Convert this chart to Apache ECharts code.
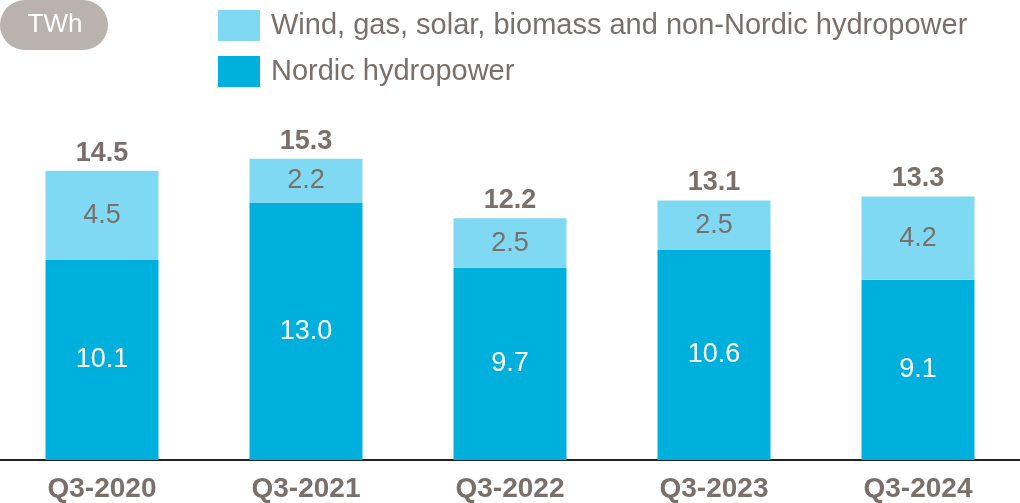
<!DOCTYPE html>
<html>
<head>
<meta charset="utf-8">
<script src="https://cdn.jsdelivr.net/npm/echarts@6/dist/echarts.min.js"></script>
<style>
  html, body { margin: 0; padding: 0; background: #fff; }
  #chart { width: 1020px; height: 503px; }
</style>
</head>
<body>
<div id="chart"></div>
<script>
// quarters and generation (TWh)
const quarters = ["Q3-2020", "Q3-2021", "Q3-2022", "Q3-2023", "Q3-2024"];
const nordicHydro = [10.1, 13.0, 9.7, 10.6, 9.1];
const otherSources = [4.5, 2.2, 2.5, 2.5, 4.2];
const totals = [14.5, 15.3, 12.2, 13.1, 13.3];

const gray = "#7a706b";
const font = "'Liberation Sans', Arial, sans-serif";

echarts.init(document.querySelector("#chart")).setOption({
  animation: false,
  grid: { left: 0, right: 0, top: 143, bottom: 43 },
  graphic: [
    {
      type: "rect",
      shape: { x: 0, y: 0, width: 108, height: 50, r: 25 },
      style: { fill: "#b9b2af" }
    },
    {
      type: "text",
      style: {
        x: 55, y: 25, text: "TWh", fill: "#fff",
        font: "26px " + font, align: "center", verticalAlign: "middle"
      }
    }
  ],
  legend: {
    orient: "vertical",
    left: 218,
    top: 10,
    padding: 0,
    itemWidth: 42,
    itemHeight: 31,
    itemGap: 15,
    icon: "rect",
    data: ["Wind, gas, solar, biomass and non-Nordic hydropower", "Nordic hydropower"],
    textStyle: { color: gray, fontSize: 29, fontFamily: font, padding: [9, 0, 0, 6] }
  },
  xAxis: {
    type: "category",
    data: quarters,
    axisLine: { lineStyle: { color: "#222", width: 2 } },
    axisTick: { show: false },
    axisLabel: {
      color: gray, fontSize: 28, fontWeight: "bold", fontFamily: font, margin: 15
    }
  },
  yAxis: {
    type: "value",
    min: 0,
    max: 16,
    show: false,
    splitLine: { show: false }
  },
  series: [
    {
      name: "Nordic hydropower",
      type: "bar",
      stack: "gen",
      barWidth: 113,
      data: nordicHydro,
      itemStyle: { color: "#00b0dc" },
      label: {
        show: true, position: "inside", color: "#fff",
        fontSize: 27, fontFamily: font,
        formatter: p => p.value.toFixed(1)
      }
    },
    {
      name: "Wind, gas, solar, biomass and non-Nordic hydropower",
      type: "bar",
      stack: "gen",
      barWidth: 113,
      data: otherSources,
      itemStyle: { color: "#80d9f3" },
      label: {
        show: true, position: "inside", color: gray,
        fontSize: 27, fontFamily: font,
        formatter: p => p.value.toFixed(1)
      }
    },
    {
      name: "total",
      type: "bar",
      stack: "gen",
      barWidth: 113,
      data: totals.map(() => 0),
      itemStyle: { color: "transparent" },
      label: {
        show: true, position: "top", distance: 4, color: gray,
        fontSize: 27, fontWeight: "bold", fontFamily: font,
        formatter: p => totals[p.dataIndex].toFixed(1)
      }
    }
  ]
});
</script>
</body>
</html>
